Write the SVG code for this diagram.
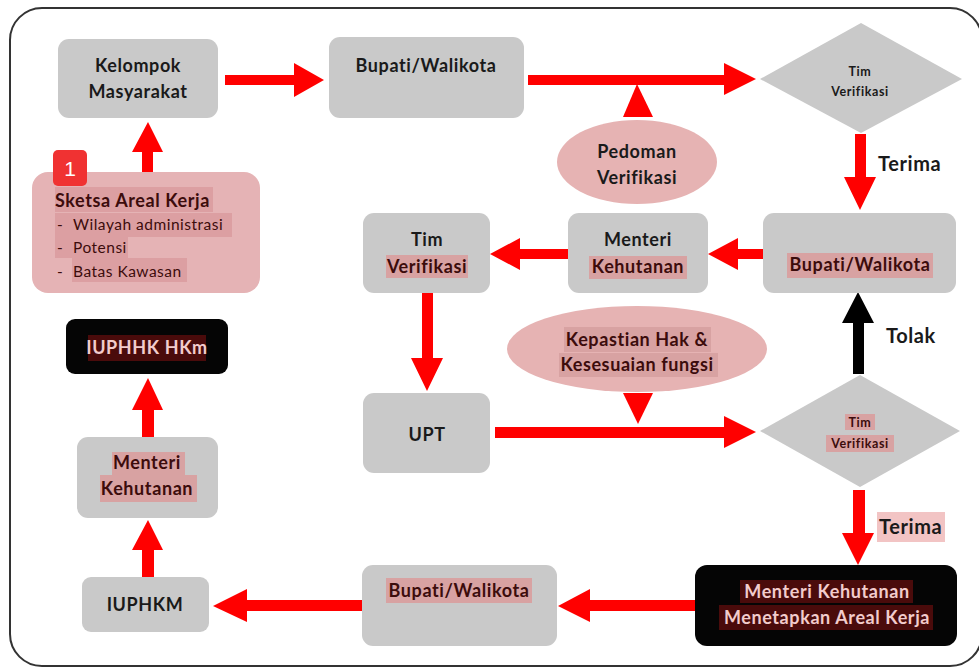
<svg xmlns="http://www.w3.org/2000/svg" width="979" height="669" viewBox="0 0 979 669">
<style>
.box{fill:#c9c9c9}
.blk{fill:#050505}
.ell{fill:#e6b3b3}
.dia{fill:#c9c9c9}
.t{font-family:Lato,"Liberation Sans",sans-serif;font-weight:bold;font-size:18px;letter-spacing:0.6px;fill:#1a1a1a;text-anchor:middle}
.ts{font-family:Lato,"Liberation Sans",sans-serif;font-weight:bold;font-size:12.5px;letter-spacing:0.6px;fill:#1a1a1a;text-anchor:middle}
.tr{fill:#3c0c0c}
.tl{fill:#f2cccc}
.hl{fill:#d8a2a2}
.hd{fill:#4a0b0b}
.lbl{font-family:Lato,"Liberation Sans",sans-serif;font-weight:bold;font-size:20px;letter-spacing:0.6px;fill:#1a1a1a}
.li{font-family:Lato,"Liberation Sans",sans-serif;font-size:15.5px;letter-spacing:0.5px;fill:#3c0c0c}
.red{fill:#ff0000}
</style>
<rect x="0" y="0" width="979" height="669" fill="#ffffff"/>
<rect x="10" y="8" width="972" height="658" rx="32" fill="none" stroke="#333" stroke-width="2"/>

<g id="connectors">
<polygon class="red" points="225,75 294,75 294,63 324,80 294,97 294,85 225,85"/>
<polygon class="red" points="528,75 724,75 724,63 756,79 724,95 724,85 528,85"/>
<polygon class="red" points="623,117 637,84 653,117"/>
<polygon class="red" points="855,134 866,134 866,177 876,177 860,210 844,177 855,177"/>
<polygon class="red" points="763,249 738,249 738,238 708,254 738,270 738,259 763,259"/>
<polygon class="red" points="568,249 520,249 520,238 490,254 520,270 520,259 568,259"/>
<polygon class="red" points="422,293 433,293 433,358 443,358 427,391 411,358 422,358"/>
<polygon class="red" points="623,393 653,393 638,424"/>
<polygon class="red" points="495,427 724,427 724,416 756,432 724,448 724,438 495,438"/>
<polygon fill="#000" points="853,374 864,374 864,323 874,323 858,292 842,323 853,323"/>
<polygon class="red" points="853,490 865,490 865,533 874,533 858,565 842,533 853,533"/>
<polygon class="red" points="695,600 590,600 590,589 558,606 590,622 590,611 695,611"/>
<polygon class="red" points="362,600 247,600 247,589 213,606 247,622 247,611 362,611"/>
<polygon class="red" points="142,577 154,577 154,550 163,550 148,520 132,550 142,550"/>
<polygon class="red" points="142,437 154,437 154,410 163,410 148,378 132,410 142,410"/>
<polygon class="red" points="142,172 153,172 153,152 163,152 148,122 132,152 142,152"/>
<text class="lbl" x="878" y="171">Terima</text>
<text class="lbl" x="886" y="343">Tolak</text>
<rect x="877" y="512" width="68" height="30" style="fill:#f2c4c4"/>
<text class="lbl tr" x="879" y="534">Terima</text>
</g>

<g id="kelompok">
<rect class="box" x="58" y="39" width="160" height="79" rx="11"/>
<text class="t" x="138" y="72">Kelompok</text>
<text class="t" x="138" y="98">Masyarakat</text>
</g>

<g id="bupati1">
<rect class="box" x="329" y="37" width="195" height="81" rx="11"/>
<text class="t" x="426" y="72">Bupati/Walikota</text>
</g>

<g id="timverif1">
<polygon class="dia" points="760,79 861,23 962,79 861,133"/>
<text class="ts" x="860" y="76">Tim</text>
<text class="ts" x="860" y="96">Verifikasi</text>
</g>

<g id="pedoman">
<ellipse class="ell" cx="637" cy="162" rx="80" ry="42"/>
<text class="t" x="637" y="158">Pedoman</text>
<text class="t" x="637" y="184">Verifikasi</text>
</g>

<g id="sketsa">
<rect x="32" y="172" width="228" height="121" rx="16" fill="#e5b3b5"/>
<rect x="55" y="187" width="158" height="25" fill="#dc9fa2"/>
<rect x="55" y="213" width="177" height="24" fill="#dc9fa2"/>
<rect x="55" y="237" width="73" height="21" fill="#dc9fa2"/>
<rect x="72" y="258" width="115" height="24" fill="#dc9fa2"/>
<text class="t tr" x="55" y="207" style="text-anchor:start">Sketsa Areal Kerja</text>
<text class="li" x="57" y="230">-</text><text class="li" x="73" y="230">Wilayah administrasi</text>
<text class="li" x="57" y="253">-</text><text class="li" x="73" y="253">Potensi</text>
<text class="li" x="57" y="277">-</text><text class="li" x="73" y="277">Batas Kawasan</text>
</g>

<g id="badge1">
<rect x="53" y="150" width="34" height="36" rx="5" fill="#f03232"/>
<text x="70" y="176" font-family="Liberation Sans,sans-serif" font-size="21" fill="#fff" text-anchor="middle">1</text>
</g>

<g id="bupati2">
<rect class="box" x="763" y="213" width="193" height="80" rx="11"/>
<rect class="hl" x="787" y="253" width="146" height="25"/>
<text class="t tr" x="860" y="271">Bupati/Walikota</text>
</g>

<g id="menteri1">
<rect class="box" x="568" y="213" width="140" height="80" rx="11"/>
<rect class="hl" x="589" y="256" width="98" height="23"/>
<text class="t" x="638" y="246">Menteri</text>
<text class="t tr" x="638" y="273">Kehutanan</text>
</g>

<g id="timverif2">
<rect class="box" x="363" y="213" width="127" height="80" rx="11"/>
<rect class="hl" x="386" y="255" width="82" height="23"/>
<text class="t" x="427" y="246">Tim</text>
<text class="t tr" x="427" y="273">Verifikasi</text>
</g>

<g id="upt">
<rect class="box" x="363" y="393" width="127" height="80" rx="11"/>
<text class="t" x="427" y="441">UPT</text>
</g>

<g id="kepastian">
<ellipse class="ell" cx="637" cy="349" rx="130" ry="43"/>
<rect class="hl" x="564" y="327" width="147" height="25"/>
<rect class="hl" x="559" y="353" width="159" height="24"/>
<text class="t tr" x="637" y="346">Kepastian Hak &amp;</text>
<text class="t tr" x="637" y="371">Kesesuaian fungsi</text>
</g>

<g id="timverif3">
<polygon class="dia" points="760,431 860,375 960,431 860,487"/>
<rect class="hl" x="845" y="414" width="30" height="16"/>
<rect class="hl" x="826" y="435" width="68" height="17"/>
<text class="ts tr" x="860" y="427">Tim</text>
<text class="ts tr" x="860" y="448">Verifikasi</text>
</g>

<g id="menetapkan">
<rect class="blk" x="695" y="565" width="262" height="81" rx="12"/>
<rect class="hd" x="740" y="580" width="173" height="23"/>
<rect class="hd" x="719" y="605" width="214" height="25"/>
<text class="t tl" x="827" y="598">Menteri Kehutanan</text>
<text class="t tl" x="827" y="624">Menetapkan Areal Kerja</text>
</g>

<g id="bupati3">
<rect class="box" x="362" y="565" width="195" height="81" rx="11"/>
<rect class="hl" x="386" y="578" width="146" height="25"/>
<text class="t tr" x="459" y="597">Bupati/Walikota</text>
</g>

<g id="iuphkm">
<rect class="box" x="82" y="577" width="127" height="55" rx="9"/>
<text class="t" x="145" y="611">IUPHKM</text>
</g>

<g id="menteri2">
<rect class="box" x="77" y="437" width="141" height="81" rx="11"/>
<rect class="hl" x="112" y="452" width="73" height="23"/>
<rect class="hl" x="100" y="475" width="97" height="27"/>
<text class="t tr" x="147" y="469">Menteri</text>
<text class="t tr" x="147" y="495">Kehutanan</text>
</g>

<g id="iuphhk">
<rect class="blk" x="66" y="319" width="162" height="55" rx="9"/>
<rect class="hd" x="88" y="335" width="118" height="26"/>
<text class="t tl" x="147" y="354">IUPHHK HKm</text>
</g>
</svg>
